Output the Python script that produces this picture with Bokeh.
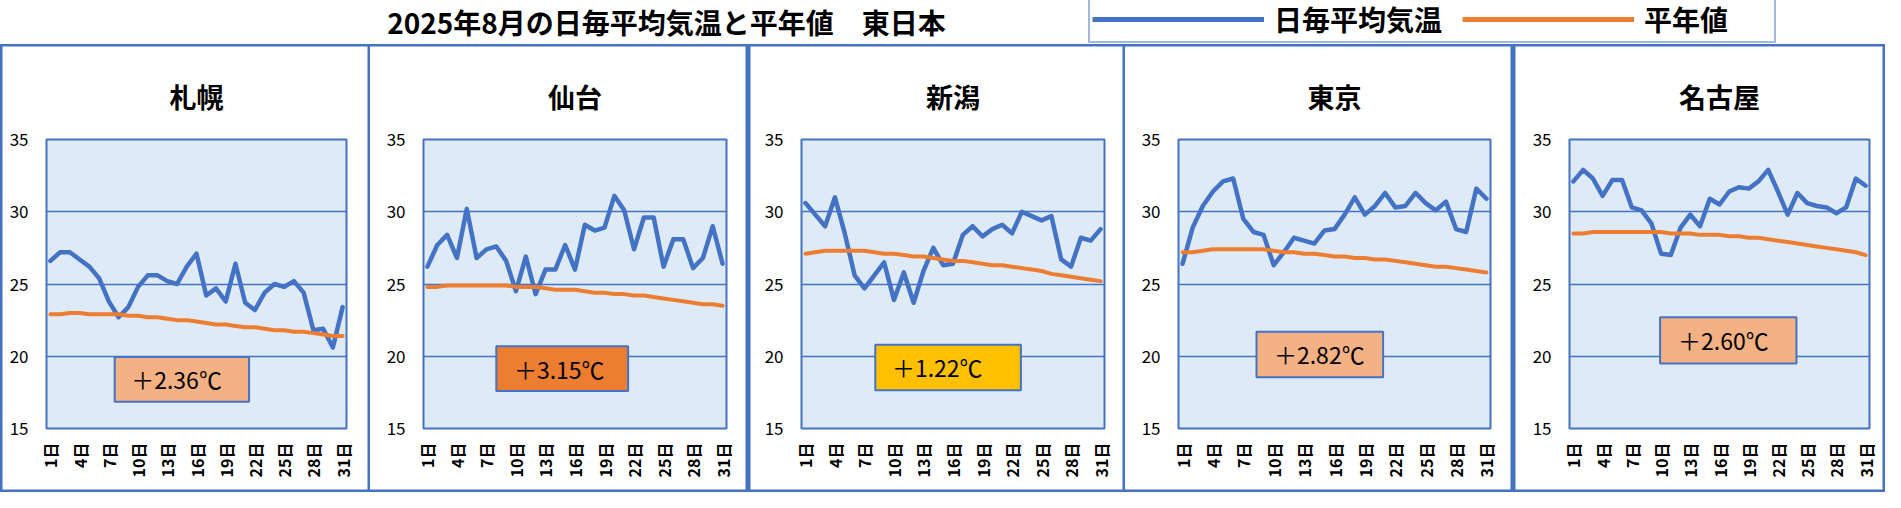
import math
from bokeh.plotting import figure
from bokeh.models import FixedTicker, Label, Legend, LegendItem
from bokeh.layouts import column, row
from bokeh.embed import file_html
from bokeh.resources import INLINE
from bokeh.core.properties import value

# ---------------- data ----------------
chart_title = "2025年8月の日毎平均気温と平年値　東日本"
legend_labels = ["日毎平均気温", "平年値"]
cities = ["札幌", "仙台", "新潟", "東京", "名古屋"]
anomalies = ["＋2.36℃", "＋3.15℃", "＋1.22℃", "＋2.82℃", "＋2.60℃"]

days = list(range(1, 32))
tick_days = [1, 4, 7, 10, 13, 16, 19, 22, 25, 28, 31]
tick_labels = ["1日", "4日", "7日", "10日", "13日", "16日", "19日", "22日", "25日", "28日", "31日"]
y_ticks = [15, 20, 25, 30, 35]

sapporo_daily = [26.6, 27.2, 27.2, 26.7, 26.2, 25.4, 23.8, 22.7, 23.4, 24.8, 25.6, 25.6, 25.2, 25.0, 26.2, 27.1,
                 24.2, 24.7, 23.8, 26.4, 23.7, 23.2, 24.4, 25.0, 24.8, 25.2, 24.4, 21.8, 21.9, 20.6, 23.4]
sapporo_normal = [22.9, 22.9, 23.0, 23.0, 22.9, 22.9, 22.9, 22.9, 22.8, 22.8, 22.7, 22.7, 22.6, 22.5, 22.5, 22.4,
                  22.3, 22.2, 22.2, 22.1, 22.0, 22.0, 21.9, 21.8, 21.8, 21.7, 21.7, 21.6, 21.5, 21.4, 21.4]

sendai_daily = [26.2, 27.7, 28.4, 26.8, 30.2, 26.8, 27.4, 27.6, 26.6, 24.5, 26.9, 24.3, 26.0, 26.0, 27.7, 26.0,
                29.1, 28.7, 28.9, 31.1, 30.1, 27.4, 29.6, 29.6, 26.2, 28.1, 28.1, 26.1, 26.8, 29.0, 26.4]
sendai_normal = [24.8, 24.8, 24.9, 24.9, 24.9, 24.9, 24.9, 24.9, 24.9, 24.8, 24.8, 24.8, 24.7, 24.6, 24.6, 24.6,
                 24.5, 24.4, 24.4, 24.3, 24.3, 24.2, 24.2, 24.1, 24.0, 23.9, 23.8, 23.7, 23.6, 23.6, 23.5]

niigata_daily = [30.6, 29.8, 29.0, 31.0, 28.5, 25.6, 24.7, 25.6, 26.5, 23.9, 25.8, 23.7, 25.9, 27.5, 26.3, 26.4,
                 28.4, 29.0, 28.3, 28.8, 29.1, 28.5, 30.0, 29.7, 29.4, 29.7, 26.7, 26.2, 28.2, 28.0, 28.8]
niigata_normal = [27.1, 27.2, 27.3, 27.3, 27.3, 27.3, 27.3, 27.2, 27.1, 27.1, 27.0, 26.9, 26.9, 26.8, 26.7, 26.6,
                  26.6, 26.5, 26.4, 26.3, 26.3, 26.2, 26.1, 26.0, 25.9, 25.7, 25.6, 25.5, 25.4, 25.3, 25.2]

tokyo_daily = [26.4, 28.9, 30.4, 31.4, 32.1, 32.3, 29.5, 28.6, 28.4, 26.3, 27.2, 28.2, 28.0, 27.8, 28.7, 28.8,
               29.8, 31.0, 29.8, 30.4, 31.3, 30.3, 30.4, 31.3, 30.6, 30.1, 30.7, 28.8, 28.6, 31.6, 30.9]
tokyo_normal = [27.2, 27.2, 27.3, 27.4, 27.4, 27.4, 27.4, 27.4, 27.4, 27.3, 27.2, 27.2, 27.1, 27.1, 27.0, 26.9,
                26.9, 26.8, 26.8, 26.7, 26.7, 26.6, 26.5, 26.4, 26.3, 26.2, 26.2, 26.1, 26.0, 25.9, 25.8]

nagoya_daily = [32.1, 32.9, 32.3, 31.1, 32.2, 32.2, 30.3, 30.1, 29.2, 27.1, 27.0, 28.9, 29.8, 29.0, 30.9, 30.5,
                31.4, 31.7, 31.6, 32.1, 32.9, 31.4, 29.8, 31.3, 30.6, 30.4, 30.3, 29.9, 30.3, 32.3, 31.8]
nagoya_normal = [28.5, 28.5, 28.6, 28.6, 28.6, 28.6, 28.6, 28.6, 28.6, 28.6, 28.5, 28.5, 28.5, 28.4, 28.4, 28.4,
                 28.3, 28.3, 28.2, 28.2, 28.1, 28.0, 27.9, 27.8, 27.7, 27.6, 27.5, 27.4, 27.3, 27.2, 27.0]

daily_series = [sapporo_daily, sendai_daily, niigata_daily, tokyo_daily, nagoya_daily]
normal_series = [sapporo_normal, sendai_normal, niigata_normal, tokyo_normal, nagoya_normal]

# ---------------- styles / layout ----------------
BLUE = "#4472C4"
ORANGE = "#ED7D31"
PLOT_BG = "#DEEBF7"
JP = "Noto Sans CJK JP"
H = 448

panel_geom = [
    dict(w=370, ml=46, fw=300, mt=90, fh=294, sides="LRTB"),
    dict(w=378, ml=53, fw=303, mt=90, fh=294, sides="RTB"),
    dict(w=377, ml=53, fw=303, mt=91, fh=294, sides="LRTB"),
    dict(w=388, ml=53, fw=312, mt=93, fh=293, sides="RTB"),
    dict(w=372, ml=56, fw=300, mt=95, fh=294, sides="LRTB"),
]
box_geom = [
    dict(left=7.6, right=21.4, bottom=16.85, top=19.95, tx=13.95, fill="#F4B183"),
    dict(left=8.0, right=21.4, bottom=17.6, top=20.7, tx=14.4, fill=ORANGE),
    dict(left=8.1, right=22.9, bottom=17.65, top=20.8, tx=14.4, fill="#FFC000"),
    dict(left=8.3, right=20.8, bottom=18.55, top=21.7, tx=14.5, fill="#F4B183"),
    dict(left=9.9, right=23.9, bottom=19.5, top=22.7, tx=16.4, fill="#F4B183"),
]
SHADOW = {"L": "inset 2.5px 0 0 0 #4472C4", "R": "inset -2.5px 0 0 0 #4472C4",
          "T": "inset 0 2.5px 0 0 #4472C4", "B": "inset 0 -2.5px 0 0 #4472C4"}

panels = []
for i in range(5):
    g = panel_geom[i]
    b = box_geom[i]
    mr = g["w"] - g["ml"] - g["fw"]
    mb = H - g["mt"] - g["fh"]
    css = {"box-shadow": ", ".join(SHADOW[s] for s in g["sides"]), "background": "white"}
    p = figure(width=g["w"], height=H, x_range=(0.6, 31.4), y_range=(15, 35),
               output_backend="svg", toolbar_location=None,
               min_border_left=g["ml"], min_border_right=mr,
               min_border_top=g["mt"], min_border_bottom=mb,
               styles=css)
    p.title.text = cities[i]
    p.title.align = "center"
    p.title.standoff = 48
    p.title.text_font = JP
    p.title.text_font_size = "27px"
    p.title.text_font_style = "bold"
    p.title.text_color = "black"

    p.background_fill_color = PLOT_BG
    p.border_fill_color = None
    p.outline_line_color = BLUE
    p.outline_line_width = 2

    p.xgrid.grid_line_color = None
    p.ygrid.grid_line_color = BLUE
    p.ygrid.grid_line_width = 1.6

    p.yaxis.ticker = FixedTicker(ticks=y_ticks)
    p.xaxis.ticker = FixedTicker(ticks=tick_days)
    p.xaxis.major_label_overrides = {d: lab for d, lab in zip(tick_days, tick_labels)}
    p.xaxis.major_label_orientation = math.pi / 2
    for ax in (p.xaxis, p.yaxis):
        ax.axis_line_color = None
        ax.major_tick_line_color = None
        ax.minor_tick_line_color = None
        ax.major_tick_out = 0
        ax.major_tick_in = 0
        ax.major_label_text_color = "black"
        ax.major_label_text_font = JP
    p.yaxis.major_label_text_font_size = "17px"
    p.yaxis.major_label_standoff = 18
    p.xaxis.major_label_text_font_size = "16px"
    p.xaxis.major_label_text_font_style = "bold"
    p.xaxis.major_label_standoff = 14

    p.line(days, daily_series[i], line_color=BLUE, line_width=4.5,
           line_join="round", line_cap="round")
    p.line(days, normal_series[i], line_color=ORANGE, line_width=4,
           line_join="round", line_cap="round")

    p.quad(left=[b["left"]], right=[b["right"]], bottom=[b["bottom"]], top=[b["top"]],
           fill_color=b["fill"], line_color=BLUE, line_width=2)
    p.text(x=[b["tx"]], y=[(b["bottom"] + b["top"]) / 2], text=[anomalies[i]],
           text_align="center", text_baseline="middle", text_color="black",
           text_font=value(JP), text_font_size=value("23px"))
    panels.append(p)

# ---------------- header: title + legend ----------------
HW = sum(g["w"] for g in panel_geom)
HH = 44
hdr = figure(width=HW, height=HH, x_range=(0, HW), y_range=(0, HH),
             x_axis_type=None, y_axis_type=None, output_backend="svg",
             toolbar_location=None, min_border=0)
hdr.title.visible = False
hdr.outline_line_color = None
hdr.background_fill_color = "white"
hdr.border_fill_color = "white"

hdr.add_layout(Label(x=666, y=23, text=chart_title, text_align="center", text_baseline="middle",
                     text_font=JP, text_font_size="28px", text_font_style="bold", text_color="black"))

nan = float("nan")
r_b = hdr.line(x=[nan], y=[nan], line_color=BLUE, line_width=5)
r_o = hdr.line(x=[nan], y=[nan], line_color=ORANGE, line_width=5)
legend = Legend(items=[LegendItem(label=value(legend_labels[0]), renderers=[r_b]),
                       LegendItem(label=value(legend_labels[1]), renderers=[r_o])],
                location=(1088, 1), orientation="horizontal",
                glyph_width=172, glyph_height=20, label_standoff=10, spacing=20,
                label_width=128, padding=2, margin=0,
                border_line_color=BLUE, border_line_width=2,
                background_fill_color="white", background_fill_alpha=1,
                label_text_font=JP, label_text_font_size="28px",
                label_text_font_style="bold", label_text_color="black")
hdr.add_layout(legend)

layout = column(hdr, row(*panels, spacing=0), spacing=0)
open("out.html", "w").write(file_html(layout, INLINE))
